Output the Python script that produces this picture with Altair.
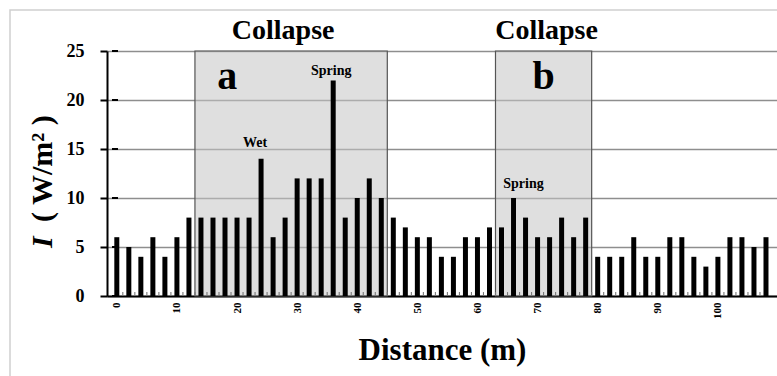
import altair as alt
import pandas as pd

# Radiant intensity measured every 2 m along the transect
distance = list(range(0, 110, 2))
intensity = [6, 5, 4, 6, 4, 6, 8,
             8, 8, 8, 8, 8, 14, 6, 8, 12, 12, 12, 22, 8, 10, 12, 10,
             8, 7, 6, 6, 4, 4, 6, 6, 7,
             7, 10, 8, 6, 6, 8, 6, 8,
             4, 4, 4, 6, 4, 4, 6, 6, 4, 3, 4, 6, 6, 5, 6]

# Collapse zones
zone_start = [13, 63]
zone_end = [45, 79]
zone_letter = ["a", "b"]
zone_title = ["Collapse", "Collapse"]
letter_dx = [-64, 0]
title_dx = [-8, 3]

# Point annotations
note_x = [24, 36, 66]
note_y = [14, 22, 10]
note_text = ["Wet", "Spring", "Spring"]
note_dx = [-6, -2, 10]
note_dy = [-12, -5, -10]

tick_values = [0, 5, 10, 15, 20, 25]
minor_ticks = list(range(1, 109, 2))

FONT = "Liberation Serif"
W, H = 670, 245
XDOM = [-0.8, 109]

bars_df = pd.DataFrame({"distance": distance, "intensity": intensity})
zones_df = pd.DataFrame({"start": zone_start, "end": zone_end,
                         "letter": zone_letter, "title": zone_title})
zones_df["mid"] = (zones_df["start"] + zones_df["end"]) / 2
zones_df["top"] = 25
notes_df = pd.DataFrame({"x": note_x, "y": note_y, "text": note_text})

xscale = alt.Scale(domain=XDOM, nice=False, zero=False)
yscale = alt.Scale(domain=[0, 25], nice=False)

x_axis = alt.Axis(
    title="Distance (m)", values=list(range(0, 101, 10)),
    labelAngle=270, labelAlign="right", labelBaseline="middle",
    labelFont=FONT, labelFontWeight="bold", labelFontSize=11, labelColor="black",
    labelPadding=6, ticks=False, grid=False,
    domainColor="black", domainWidth=2,
    titleFont=FONT, titleFontWeight="bold", titleFontSize=31, titleColor="black",
    titlePadding=17, labelOverlap=False,
)
# y axis draws the horizontal gridlines; the zone fill is translucent so they show through
y_axis = alt.Axis(
    title=None, values=tick_values, grid=True, gridColor="#8e8e8e", gridWidth=1.5,
    labelFont=FONT, labelFontWeight="bold", labelFontSize=18, labelColor="black",
    labelPadding=16, tickSize=7, tickColor="black", tickWidth=2,
    domainColor="black", domainWidth=2,
)

frame = alt.Chart(alt.Data(values=[{"k": 0}])).mark_rect(
    fillOpacity=0, stroke="#d0d0d0", strokeWidth=1.5, clip=False
).encode(x=alt.value(-97), x2=alt.value(W + 20),
         y=alt.value(-41), y2=alt.value(H + 90))

zones = alt.Chart(zones_df).mark_rect(
    fill="#c4c4c4", fillOpacity=0.55, stroke="#555555", strokeWidth=1.2, strokeOpacity=1
).encode(
    x=alt.X("start:Q", scale=xscale, axis=x_axis),
    x2="end:Q",
    y=alt.Y("top:Q", scale=yscale, axis=y_axis),
    y2=alt.datum(0),
)

# y-axis ticks crossing to the inside of the axis line
cross_ticks = alt.Chart(alt.Data(values=[{"tv": v} for v in tick_values])).mark_rule(
    stroke="black", strokeWidth=2, clip=False
).encode(
    y=alt.Y("tv:Q", scale=yscale),
    x=alt.datum(XDOM[0], scale=xscale), x2=alt.datum(XDOM[0] + 1.0),
)

# small ticks on the distance axis between the bars
minor = alt.Chart(alt.Data(values=[{"mx": m} for m in minor_ticks])).transform_calculate(
    l="datum.mx - 0.09", r="datum.mx + 0.09", b="0", t="0.4"
).mark_rect(color="#777777").encode(
    x=alt.X("l:Q", scale=xscale), x2="r:Q",
    y=alt.Y("b:Q", scale=yscale), y2="t:Q",
)

bars = alt.Chart(bars_df).mark_bar(color="black", size=5).encode(
    x=alt.X("distance:Q", scale=xscale),
    y=alt.Y("intensity:Q", scale=yscale),
)

zone_text = []
for i in range(len(zone_start)):
    row = zones_df.iloc[[i]]
    zone_text.append(
        alt.Chart(row).mark_text(
            font=FONT, fontWeight="bold", fontSize=28, color="black",
            baseline="bottom", dy=-6, dx=title_dx[i]
        ).encode(x=alt.X("mid:Q", scale=xscale), y=alt.Y("top:Q", scale=yscale),
                 text="title:N")
    )
    zone_text.append(
        alt.Chart(row).mark_text(
            font=FONT, fontWeight="bold", fontSize=40, color="black",
            baseline="alphabetic", dx=letter_dx[i], dy=38
        ).encode(x=alt.X("mid:Q", scale=xscale), y=alt.Y("top:Q", scale=yscale),
                 text="letter:N")
    )

notes_layers = []
for i in range(len(note_x)):
    notes_layers.append(
        alt.Chart(notes_df.iloc[[i]]).mark_text(
            font=FONT, fontWeight="bold", fontSize=14, color="black",
            baseline="alphabetic", dx=note_dx[i], dy=note_dy[i]
        ).encode(x=alt.X("x:Q", scale=xscale), y=alt.Y("y:Q", scale=yscale),
                 text="text:N")
    )

ylab_i = alt.Chart(alt.Data(values=[{"t": "I"}])).mark_text(
    font=FONT, fontWeight="bold", fontStyle="italic", fontSize=30, color="black",
    angle=270, align="left", baseline="middle"
).encode(x=alt.value(-64), y=alt.value(197), text="t:N")

ylab_rest = alt.Chart(alt.Data(values=[{"t": "( W/m² )"}])).mark_text(
    font=FONT, fontWeight="bold", fontSize=30, color="black",
    angle=270, align="left", baseline="middle"
).encode(x=alt.value(-64), y=alt.value(171), text="t:N")

chart = alt.layer(
    frame, zones, minor, bars, cross_ticks, *zone_text, *notes_layers,
    ylab_i, ylab_rest
).properties(
    width=W, height=H,
    autosize=alt.AutoSizeParams(type="none"),
    padding={"left": 107, "top": 51, "right": 0, "bottom": 80},
).configure(background="white").configure_view(stroke=None)

chart.save("out.html", embed_options={"renderer": "svg", "actions": False})
